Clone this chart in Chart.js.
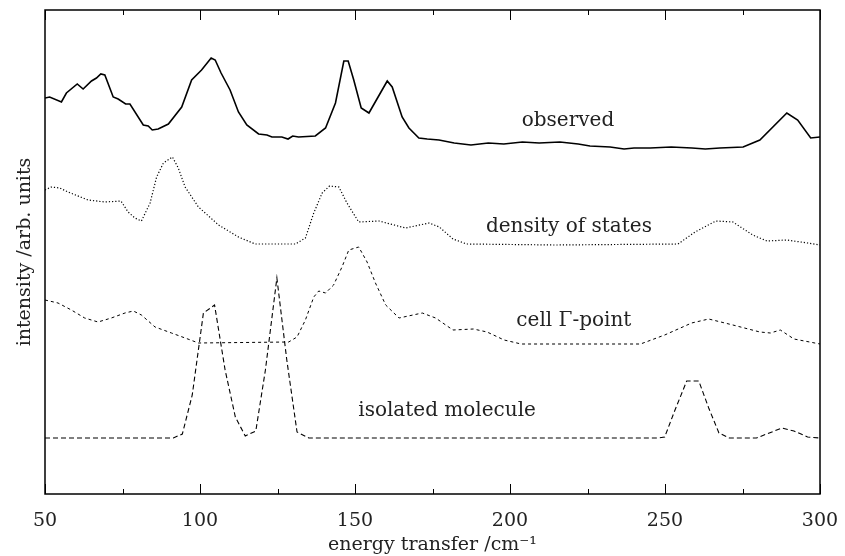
<!DOCTYPE html>
<html>
<head>
<meta charset="utf-8">
<script src="https://cdn.jsdelivr.net/npm/chart.js@4.4.1/dist/chart.umd.min.js"></script>
<style>
  html, body { margin: 0; padding: 0; background: #fff; }
  #wrap { width: 845px; height: 556px; }
</style>
</head>
<body>
<div id="wrap"><canvas id="spectra" width="845" height="556"></canvas></div>
<script>
// energy transfer (cm^-1) and intensity (arb. units, curves already offset)
const obsX = [50, 51.5, 55.3, 56.9, 60.4, 62.3, 65, 66.6, 68, 69.3, 72, 73.6, 76, 77.4, 81.7, 83.3, 84.6, 86.5, 89.8, 94.1, 97.3, 100.5, 103.6, 104.9, 106.8, 109.7, 112.4, 115.1, 118.9, 121.6, 123.2, 126.4, 128.4, 129.9, 131.8, 137.2, 140.5, 143.7, 146.4, 147.8, 149.6, 152, 154.5, 160.4, 162, 165.2, 167.4, 170.6, 173.3, 177.1, 182, 187.4, 193, 198, 204, 209.4, 216.1, 222, 225.8, 232.3, 236.8, 240, 245.2, 252, 258.7, 263, 267.7, 275.2, 280.6, 289.3, 292.8, 297, 300];
const obsY = [387, 388, 383, 392, 401, 396, 404, 407, 411, 410, 388, 386, 381, 381, 360, 359, 355, 356, 361, 378, 405, 415, 427, 425, 412, 395, 373, 360, 351, 350, 348, 348, 346, 349, 348, 349, 357, 382, 424, 424, 405, 377, 372, 404, 398, 368, 357, 347, 346, 345, 342, 340, 342, 341, 343, 342, 343, 341, 339, 338, 336, 337, 337, 338, 337, 336, 337, 338, 345, 372, 365, 347, 348];

const dosX = [50, 52, 54.8, 57.4, 63.9, 69.3, 74.5, 76.8, 79, 81.1, 83.9, 86, 88.2, 91.1, 93, 95.2, 99.5, 106, 112.4, 117.8, 130.8, 134, 136.7, 139.4, 141.8, 144.8, 147.4, 151.2, 157.7, 166.3, 173.9, 177.2, 181.6, 186, 214.6, 254.2, 259.7, 266.4, 271.9, 278.3, 282.9, 289.3, 296, 300];
const dosY = [295, 298, 297, 293, 285, 283, 284, 273, 267, 264, 282, 308, 322, 328, 317, 298, 278, 260, 248, 241, 241, 247, 272, 292, 299, 298, 282, 263, 264, 257, 262, 258, 246, 241, 240, 241, 253, 264, 263, 250, 244, 245, 242, 240];

const cellX = [50, 54.2, 58.5, 62.8, 67.1, 71.4, 75.8, 78.5, 81.1, 85.5, 90.8, 95.2, 99.5, 128.6, 131.3, 134, 136.7, 138.3, 140.5, 143.1, 145.8, 148, 151.2, 153.9, 156.6, 159.9, 164.2, 171.7, 176, 181.6, 188.2, 192.6, 198.1, 203.6, 242.1, 249.9, 258.6, 264.1, 271.9, 280.6, 284, 287.2, 291.6, 300];
const cellY = [185, 182, 175, 167, 163, 167, 172, 174, 170, 158, 152, 147, 142, 143, 148, 165, 188, 194, 192, 200, 218, 235, 238, 223, 202, 180, 167, 172, 167, 155, 156, 153, 145, 141, 141, 150, 162, 166, 160, 153, 152, 155, 146, 141];

const isoX = [50, 91.4, 94.3, 97.5, 101.1, 104.7, 108.1, 111.4, 114.6, 118, 121.1, 124.8, 128, 131.3, 135.1, 247.6, 249.9, 253.1, 257, 260.9, 264.1, 267.4, 270.7, 279.5, 287.7, 291.6, 296, 300];
const isoY = [47, 47, 51, 90, 172, 180, 115, 68, 49, 54, 115, 207, 125, 53, 47, 47, 48, 74, 104, 104, 77, 52, 47, 47, 57, 54, 48, 47];

const curveNames = ["observed", "density of states", "cell \u0393-point", "isolated molecule"];
const nameX = [218.7, 219, 220.6, 179.7];
const nameY = [364, 258, 164, 74.5];

const SERIF = "'DejaVu Serif', 'Liberation Serif', serif";

function toPoints(xs, ys) {
  return xs.map((x, i) => ({ x: x, y: ys[i] }));
}

// frame all round plus inward tick marks on top and bottom, then the curve names
const framePlugin = {
  id: "frame",
  afterDraw(chart) {
    const { ctx, chartArea: a, scales } = chart;
    const xs = scales.x;
    ctx.save();
    ctx.strokeStyle = "#000";
    ctx.lineWidth = 1.5;
    ctx.strokeRect(a.left, a.top, a.right - a.left, a.bottom - a.top);
    ctx.lineWidth = 1;
    xs.ticks.forEach(t => {
      const px = Math.round(xs.getPixelForValue(t.value)) + 0.5;
      const len = t.value % 50 === 0 ? 10 : 5;
      ctx.beginPath();
      ctx.moveTo(px, a.bottom);
      ctx.lineTo(px, a.bottom - len);
      ctx.moveTo(px, a.top);
      ctx.lineTo(px, a.top + len);
      ctx.stroke();
    });
    ctx.fillStyle = "#222";
    ctx.font = "20px " + SERIF;
    ctx.textAlign = "center";
    ctx.textBaseline = "middle";
    curveNames.forEach((name, i) => {
      ctx.fillText(name, xs.getPixelForValue(nameX[i]), scales.y.getPixelForValue(nameY[i]));
    });
    ctx.restore();
  }
};

const ctx = document.getElementById("spectra").getContext("2d");
const spectraChart = new Chart(ctx, {
  type: "line",
  data: {
    datasets: [
      {
        label: curveNames[0],
        data: toPoints(obsX, obsY),
        borderColor: "#000",
        borderWidth: 1.6,
      },
      {
        label: curveNames[1],
        data: toPoints(dosX, dosY),
        borderColor: "#000",
        borderWidth: 1.2,
        borderDash: [1.2, 2],
      },
      {
        label: curveNames[2],
        data: toPoints(cellX, cellY),
        borderColor: "#000",
        borderWidth: 1,
        borderDash: [3, 3],
      },
      {
        label: curveNames[3],
        data: toPoints(isoX, isoY),
        borderColor: "#000",
        borderWidth: 1.1,
        borderDash: [5, 3],
      },
    ],
  },
  options: {
    responsive: false,
    animation: false,
    elements: {
      point: { radius: 0 },
      line: { tension: 0, fill: false },
    },
    layout: {
      padding: { left: 14, right: 25, top: 10, bottom: 0 },
    },
    plugins: {
      legend: { display: false },
      tooltip: { enabled: false },
    },
    scales: {
      x: {
        type: "linear",
        min: 50,
        max: 300,
        grid: { display: false, drawTicks: false },
        border: { display: false },
        ticks: {
          stepSize: 25,
          autoSkip: false,
          maxRotation: 0,
          padding: 16,
          color: "#222",
          font: { family: SERIF, size: 19 },
          callback: v => (v % 50 === 0 ? v : ""),
        },
        title: {
          display: true,
          text: "energy transfer /cm\u207B\u00B9",
          color: "#222",
          font: { family: SERIF, size: 19 },
          padding: { top: 0, bottom: 0 },
        },
        afterFit: scale => {
          scale.height = 62;
          scale.paddingLeft = 0;
          scale.paddingRight = 0;
        },
      },
      y: {
        min: -9,
        max: 475,
        grid: { display: false, drawTicks: false },
        border: { display: false },
        ticks: { display: false },
        title: {
          display: true,
          text: "intensity /arb. units",
          color: "#222",
          font: { family: SERIF, size: 19 },
          padding: { top: 0, bottom: 0 },
        },
        afterFit: scale => { scale.width = 31; },
      },
    },
  },
  plugins: [framePlugin],
});
</script>
</body>
</html>
